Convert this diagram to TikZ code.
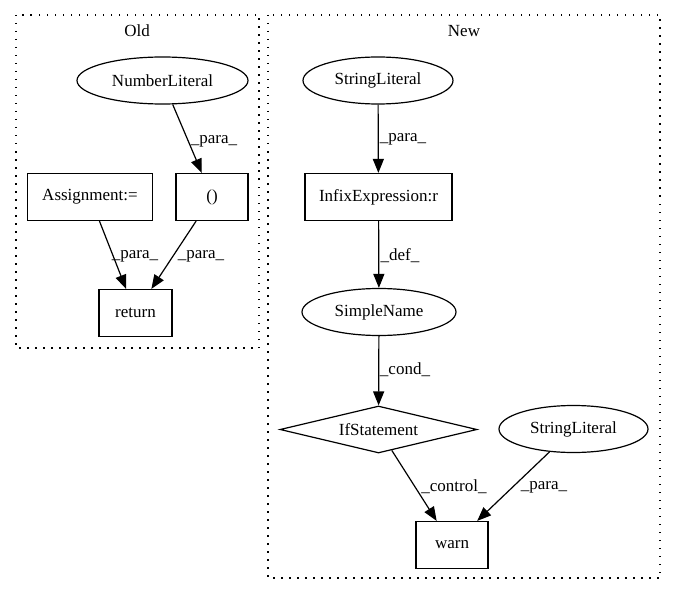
\documentclass[tikz,border=0pt]{standalone}
\usepackage{fontspec}
\setmainfont{Liberation Serif}
\usetikzlibrary{shapes.geometric,arrows.meta}
\begin{document}
\begin{tikzpicture}[x=1pt,y=-1pt,
  every node/.style={font=\fontsize{17}{20}\selectfont, inner sep=0pt},
  boxnode/.style={draw, line width=1.2pt, rectangle, minimum height=47pt},
  ellnode/.style={draw, line width=1.2pt, ellipse, minimum height=47pt},
  dianode/.style={draw, line width=1.2pt, diamond, shape aspect=4.2, minimum width=197pt, minimum height=47pt},
  cluster/.style={draw, line width=1.3pt, dash pattern=on 1.5pt off 6.5pt},
  edge/.style={draw, line width=1.2pt, -{Triangle[length=14pt,width=11pt]}},
  lbl/.style={anchor=center}
]
\useasboundingbox (0,0) rectangle (676,596);
% clusters
\draw[cluster] (16,15) rectangle (259,348);
\draw[cluster] (268,15) rectangle (660,578);
\node (oldlbl) at (137,31) {Old};
\node (newlbl) at (464,31) {New};
% Old nodes
\node[ellnode, minimum width=171pt] (num) at (162.5,80.5) {NumberLiteral};
\node[boxnode, minimum width=125pt] (assign) at (90,197) {Assignment:=};
\node[boxnode, minimum width=72pt] (paren) at (212,197) {()};
\node[boxnode, minimum width=73pt] (ret) at (135.5,313) {return};
% New nodes
\node[ellnode, minimum width=150pt] (str1) at (378,80.5) {StringLiteral};
\node[boxnode, minimum width=147pt] (infix) at (378.5,197) {InfixExpression:r};
\node[ellnode, minimum width=154pt] (simple) at (379,312) {SimpleName};
\node[dianode] (ifst) at (378.5,429.5) {IfStatement};
\node[ellnode, minimum width=149pt] (str2) at (573.5,429) {StringLiteral};
\node[boxnode, minimum width=72pt] (warn) at (452,545) {warn};
% edges
\draw[edge] (num) -- (paren);
\draw[edge] (assign) -- (ret);
\draw[edge] (paren) -- (ret);
\draw[edge] (str1) -- (infix);
\draw[edge] (infix) -- (simple);
\draw[edge] (simple) -- (ifst);
\draw[edge] (ifst) -- (warn);
\draw[edge] (str2) -- (warn);
% edge labels
\node[lbl] (l1) at (214,141) {\_para\_};
\node[lbl] (l2) at (135,256) {\_para\_};
\node[lbl] (l3) at (201,256) {\_para\_};
\node[lbl] (l4) at (403,139) {\_para\_};
\node[lbl] (l5) at (400,256) {\_def\_};
\node[lbl] (l6) at (405,370) {\_cond\_};
\node[lbl] (l7) at (454,487) {\_control\_};
\node[lbl] (l8) at (544,487) {\_para\_};
\end{tikzpicture}
\end{document}
